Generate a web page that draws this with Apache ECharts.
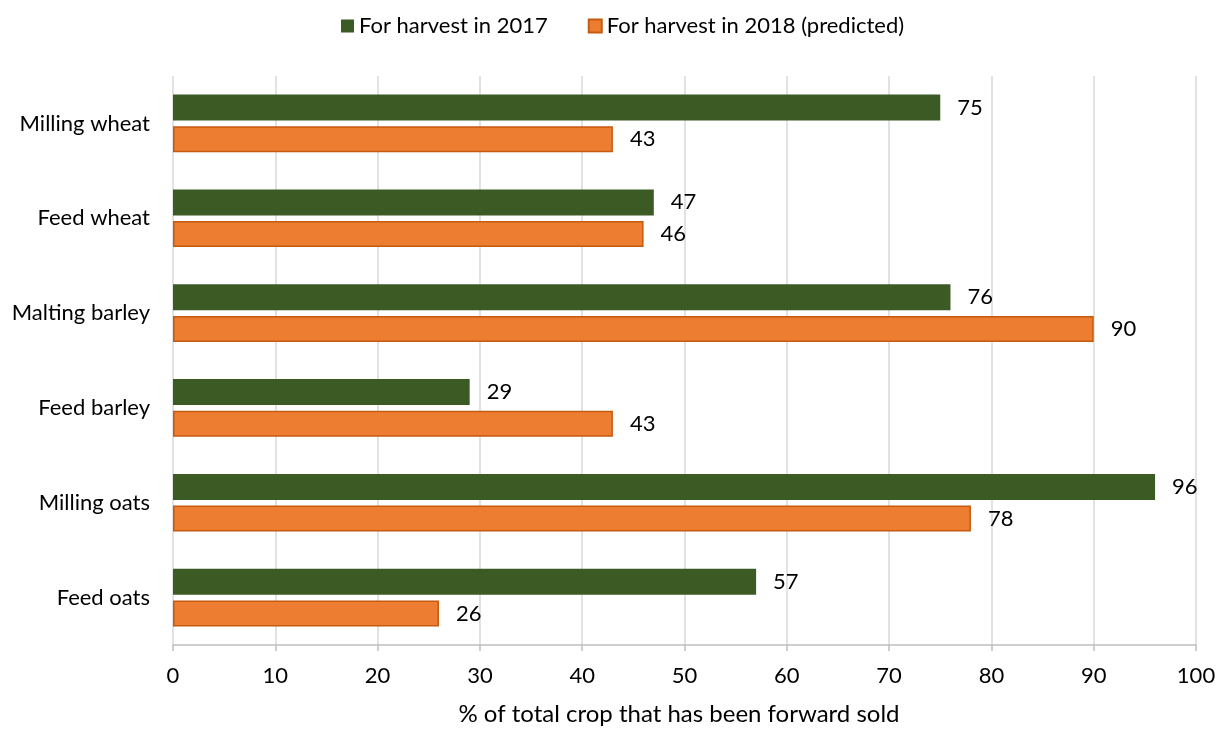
<!DOCTYPE html>
<html><head><meta charset="utf-8">
<script src="https://cdn.jsdelivr.net/npm/echarts@6/dist/echarts.min.js"></script>
<style>html,body{margin:0;padding:0;background:#fff}#c{width:1226px;height:729px}</style>
</head><body><div id="c"></div>
<script>
const categories = ["Milling wheat","Feed wheat","Malting barley","Feed barley","Milling oats","Feed oats"];
const harvest2017 = [75,47,76,29,96,57];
const harvest2018 = [43,46,90,43,78,26];
const xTicks = [0,10,20,30,40,50,60,70,80,90,100];
const seriesNames = ["For harvest in 2017","For harvest in 2018 (predicted)"];
const axisTitle = "% of total crop that has been forward sold";
const FONT = "Lato, 'Open Sans', sans-serif";
const FS = 22;
const chart = echarts.init(document.getElementById('c'));
chart.setOption({
  animation:false,
  textStyle:{fontFamily:FONT,fontSize:FS},
  title:{text:axisTitle,left:679,textAlign:'center',top:702,padding:0,
    textStyle:{fontSize:24,fontWeight:'normal',color:'#000',fontFamily:FONT}},
  legend:{top:10,left:336,itemWidth:13,itemHeight:13,itemGap:40,icon:'rect',
    textStyle:{fontSize:FS,color:'#000',fontFamily:FONT},
    data:seriesNames},
  grid:{left:173,right:30,top:76,bottom:84,containLabel:false,outerBoundsMode:'none'},
  xAxis:{type:'value',min:xTicks[0],max:xTicks[xTicks.length-1],interval:10,
    axisLine:{show:true,lineStyle:{color:'#bfbfbf',width:1.5}},
    axisTick:{show:true,length:6,lineStyle:{color:'#bfbfbf',width:1.5}},
    axisLabel:{fontSize:FS,color:'#000',margin:20,fontFamily:FONT},
    splitLine:{show:true,lineStyle:{color:'#d9d9d9',width:1.5}}},
  yAxis:{type:'category',data:categories,inverse:true,
    axisLine:{show:false},axisTick:{show:false},
    axisLabel:{fontSize:FS,color:'#000',margin:23,fontFamily:FONT}},
  series:[
    {name:seriesNames[0],type:'bar',data:harvest2017,barWidth:26,barGap:'22%',
     itemStyle:{color:'#3b5a24'},
     label:{show:true,position:'right',distance:17,fontSize:FS,color:'#000',fontFamily:FONT}},
    {name:seriesNames[1],type:'bar',data:harvest2018,barWidth:26,
     itemStyle:{color:'#ed7d31',borderColor:'#c55a11',borderWidth:1.5},
     label:{show:true,position:'right',distance:17,fontSize:FS,color:'#000',fontFamily:FONT}}
  ]
});
</script></body></html>
